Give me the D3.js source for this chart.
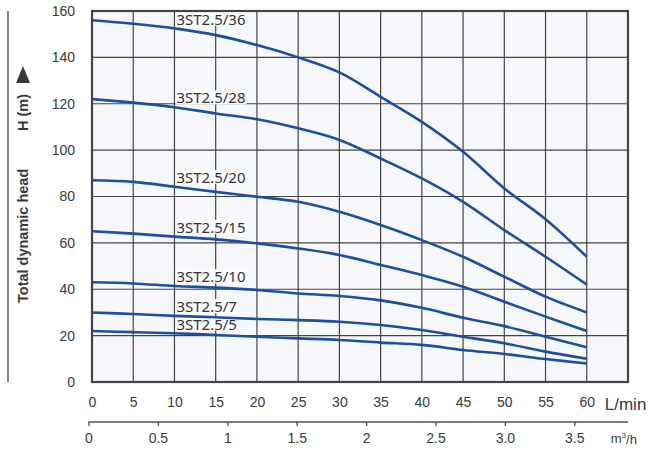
<!DOCTYPE html>
<html>
<head>
<meta charset="utf-8">
<script src="https://cdn.jsdelivr.net/npm/d3@7"></script>
<style>
  body { margin: 0; background: #fff; }
  svg { display: block; }
</style>
</head>
<body>
<div id="chart-area"></div>
<script>
// flow points in L/min
const flowLmin = [0, 5, 10, 15, 20, 25, 30, 35, 40, 45, 50, 55, 60];
const flowM3h = [0, 0.5, 1, 1.5, 2, 2.5, 3.0, 3.5];
const flowM3hLabels = ["0", "0.5", "1", "1.5", "2", "2.5", "3.0", "3.5"];
const headTicks = [0, 20, 40, 60, 80, 100, 120, 140, 160];

const models = ["3ST2.5/36", "3ST2.5/28", "3ST2.5/20", "3ST2.5/15", "3ST2.5/10", "3ST2.5/7", "3ST2.5/5"];
const head36 = [156, 154.5, 152.5, 149.6, 145.3, 140, 133.5, 123, 112.2, 99.3, 83.5, 70.2, 54];
const head28 = [122, 120.5, 118.5, 115.8, 113.3, 109.4, 104.4, 96.4, 87.8, 77.7, 65.5, 54, 42];
const head20 = [87, 86.3, 84.2, 82, 79.9, 77.7, 73.4, 67.7, 61.2, 54, 45.4, 36.8, 30];
const head15 = [65, 64, 62.7, 61.5, 59.8, 57.6, 54.8, 50.5, 46.1, 41.1, 34.6, 28.2, 22];
const head10 = [43, 42.5, 41.4, 40.7, 39.7, 38.2, 37.1, 35.2, 32.0, 27.7, 24.1, 19.5, 15];
const head7 = [30, 29.3, 28.5, 27.9, 27.2, 26.7, 26.0, 24.6, 22.4, 19.5, 16.7, 13.1, 10];
const head5 = [22, 21.5, 21, 20.3, 19.5, 18.8, 18.1, 17.0, 16.0, 13.8, 12.1, 9.9, 8];
const heads = [head36, head28, head20, head15, head10, head7, head5];

const margin = { left: 92, right: 34, top: 11, bottom: 72 };
const width = 662 - margin.left - margin.right;
const height = 454 - margin.top - margin.bottom;
const blue = "#1d4f9e";
const ink = "#3a3a3a";

const svg = d3.select("#chart-area")
  .append("svg")
  .attr("width", 662)
  .attr("height", 454);

const g = svg.append("g")
  .attr("transform", `translate(${margin.left}, ${margin.top})`);

const x = d3.scaleLinear().domain([0, 65]).range([0, width]);
const y = d3.scaleLinear().domain([0, 160]).range([height, 0]);
// second flow axis (m3/h) sits a little left of the L/min origin
const x2 = d3.scaleLinear().domain([0, 3.5]).range([-3.5, 482.3]);

// plot background
g.append("rect")
  .attr("width", width)
  .attr("height", height)
  .attr("fill", "#f5f7fa");

// grid
g.append("g")
  .selectAll("line.v")
  .data(flowLmin.slice(1))
  .enter().append("line")
  .attr("x1", d => x(d)).attr("x2", d => x(d))
  .attr("y1", 0).attr("y2", height)
  .attr("stroke", "#444").attr("stroke-width", 1.2);

g.append("g")
  .selectAll("line.h")
  .data(headTicks.slice(1, -1))
  .enter().append("line")
  .attr("x1", 0).attr("x2", width)
  .attr("y1", d => y(d)).attr("y2", d => y(d))
  .attr("stroke", "#444").attr("stroke-width", 1.2);

// curve labels (with a light box that hides the grid)
const labelG = g.append("g");
models.forEach((m, i) => {
  const lx = x(10) + 2;
  const ly = y(heads[i][2]) - 9;
  const t = labelG.append("text")
    .attr("x", lx)
    .attr("y", ly)
    .attr("dy", "0.35em")
    .attr("font-family", "Noto Sans, sans-serif")
    .attr("font-size", "15px")
    .attr("fill", "#333")
    .text(m);
  const bb = t.node().getBBox();
  labelG.insert("rect", "text")
    .attr("x", bb.x - 1)
    .attr("y", bb.y + 3)
    .attr("width", bb.width + 2)
    .attr("height", bb.height - 6)
    .attr("fill", "#fbfcfd");
});

// curves
const line = d3.line()
  .x((d, i) => x(flowLmin[i]))
  .y(d => y(d))
  .curve(d3.curveCatmullRom.alpha(0.5));

g.selectAll("path.curve")
  .data(heads)
  .enter().append("path")
  .attr("class", "curve")
  .attr("d", line)
  .attr("fill", "none")
  .attr("stroke", blue)
  .attr("stroke-width", 2.6);

// frame
g.append("rect")
  .attr("width", width)
  .attr("height", height)
  .attr("fill", "none")
  .attr("stroke", "#444")
  .attr("stroke-width", 2.2);

// y axis labels
const yAxis = g.append("g")
  .call(d3.axisLeft(y).tickValues(headTicks).tickSize(0).tickPadding(17));
yAxis.select(".domain").remove();
yAxis.selectAll("text")
  .attr("font-family", "Liberation Sans, Arial, sans-serif")
  .attr("font-size", "14px")
  .attr("fill", ink);

// x axis (L/min)
const xAxis = g.append("g")
  .attr("transform", `translate(0, ${height})`)
  .call(d3.axisBottom(x).tickValues(flowLmin).tickSize(0).tickPadding(15));
xAxis.select(".domain").remove();
xAxis.selectAll("text")
  .attr("font-family", "Liberation Sans, Arial, sans-serif")
  .attr("font-size", "14px")
  .attr("fill", ink);

g.append("text")
  .attr("x", x(60) + 18)
  .attr("y", height + 22)
  .attr("dy", "0.35em")
  .attr("font-family", "Liberation Sans, Arial, sans-serif")
  .attr("font-size", "17px")
  .attr("fill", ink)
  .text("L/min");

// second axis (m3/h)
const x2Group = g.append("g")
  .attr("transform", `translate(0, ${height + 40})`);
x2Group.append("line")
  .attr("x1", x2(0)).attr("x2", width)
  .attr("stroke", "#555").attr("stroke-width", 1.4);
x2Group.call(d3.axisBottom(x2).tickValues(flowM3h).tickSize(4).tickPadding(7)
  .tickFormat((d, i) => flowM3hLabels[i]));
x2Group.select(".domain").remove();
x2Group.selectAll(".tick line").attr("stroke", "#555").attr("stroke-width", 1.4);
x2Group.selectAll("text")
  .attr("font-family", "Liberation Sans, Arial, sans-serif")
  .attr("font-size", "14px")
  .attr("fill", ink);

const unit2 = g.append("text")
  .attr("x", x(60) + 24)
  .attr("y", height + 56)
  .attr("dy", "0.35em")
  .attr("font-family", "Liberation Sans, Arial, sans-serif")
  .attr("font-size", "13px")
  .attr("fill", ink);
unit2.append("tspan").text("m");
unit2.append("tspan").attr("font-size", "8px").attr("dy", "-0.6em").text("3");
unit2.append("tspan").attr("dy", "0.45em").text("/h");

// left rule + y title
svg.append("line")
  .attr("x1", 8).attr("x2", 8)
  .attr("y1", margin.top).attr("y2", margin.top + height)
  .attr("stroke", "#333").attr("stroke-width", 1.2);

svg.append("text")
  .attr("transform", "translate(28, 303) rotate(-90)")
  .attr("font-family", "Liberation Sans, Arial, sans-serif")
  .attr("font-weight", "bold")
  .attr("font-size", "14.5px")
  .attr("fill", ink)
  .text("Total dynamic head");

svg.append("text")
  .attr("transform", "translate(28, 131) rotate(-90)")
  .attr("font-family", "Liberation Sans, Arial, sans-serif")
  .attr("font-weight", "bold")
  .attr("font-size", "14.5px")
  .attr("fill", ink)
  .text("H (m)");

// arrow head
svg.append("path")
  .attr("d", "M16,83 L30,83 L23,66 Z")
  .attr("fill", ink);
</script>
</body>
</html>
